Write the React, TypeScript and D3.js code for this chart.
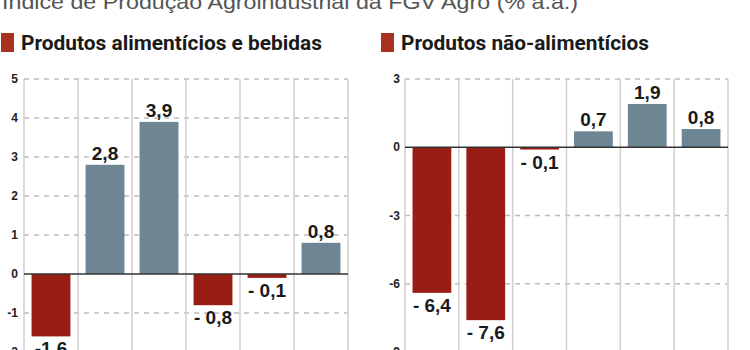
import { useEffect, useRef } from 'react';
import * as d3 from 'd3';

const title = 'Índice de Produção Agroindustrial da FGV Agro (% a.a.)';
const categories = ['1', '2', '3', '4', '5', '6'];
const foodLabel = 'Produtos alimentícios e bebidas';
const foodValues = [-1.6, 2.8, 3.9, -0.8, -0.1, 0.8];
const foodTexts = ['-1,6', '2,8', '3,9', '- 0,8', '- 0,1', '0,8'];
const foodTicks = [-2, -1, 0, 1, 2, 3, 4, 5];
const nonFoodLabel = 'Produtos não-alimentícios';
const nonFoodValues = [-6.4, -7.6, -0.1, 0.7, 1.9, 0.8];
const nonFoodTexts = ['- 6,4', '- 7,6', '- 0,1', '0,7', '1,9', '0,8'];
const nonFoodTicks = [-9, -6, -3, 0, 3];

const RED = '#981d15';
const BLUE = '#6e8694';
const LEGEND_RED = '#a8321f';

function drawPanel(
  svg: d3.Selection<SVGSVGElement, unknown, null, undefined>,
  opts: {
    values: number[];
    texts: string[];
    ticks: number[];
    domain: [number, number];
    x0: number;
    x1: number;
    label: string;
    legendX: number;
    legendW: number;
    tickX: number;
  }
) {
  const { values, texts, ticks, domain, x0, x1, label, legendX, legendW, tickX } = opts;
  const y = d3.scaleLinear().domain(domain).range([352, 79]);
  const x = d3.scaleBand<string>().domain(categories).range([x0, x1]).paddingInner(0.28).paddingOuter(0.14);
  const g = svg.append('g');

  // legend
  g.append('rect')
    .attr('x', legendX)
    .attr('y', 33)
    .attr('width', 13)
    .attr('height', 19)
    .attr('fill', LEGEND_RED);
  g.append('text')
    .attr('x', legendX + 20)
    .attr('y', 50)
    .attr('font-family', 'Roboto, sans-serif')
    .attr('font-weight', 700)
    .attr('font-size', 20)
    .attr('fill', '#1a1a1a')
    .attr('textLength', legendW)
    .attr('lengthAdjust', 'spacingAndGlyphs')
    .text(label);

  // horizontal dashed grid
  g.selectAll('.hgrid')
    .data(ticks.filter(t => t !== 0))
    .enter()
    .append('line')
    .attr('x1', x0)
    .attr('x2', x1)
    .attr('y1', d => y(d))
    .attr('y2', d => y(d))
    .attr('stroke', '#bdbdbd')
    .attr('stroke-width', 1.5)
    .attr('stroke-dasharray', '5,5');

  // vertical column lines
  const bounds = categories.map(c => x(c)! - x.step() * 0.14).concat([x1]);
  g.selectAll('.vgrid')
    .data(bounds)
    .enter()
    .append('line')
    .attr('x1', d => d)
    .attr('x2', d => d)
    .attr('y1', y(domain[1]))
    .attr('y2', 352)
    .attr('stroke', '#cfcfcf')
    .attr('stroke-width', 1.5);

  // tick labels
  g.selectAll('.tick')
    .data(ticks)
    .enter()
    .append('text')
    .attr('x', tickX)
    .attr('y', d => y(d) + 4)
    .attr('text-anchor', 'end')
    .attr('font-family', 'Liberation Sans, Arial, sans-serif')
    .attr('font-weight', 700)
    .attr('font-size', 12)
    .attr('fill', '#222')
    .text(d => String(d));

  // bars
  g.selectAll('.bar')
    .data(values)
    .enter()
    .append('rect')
    .attr('x', (_, i) => x(categories[i])!)
    .attr('width', x.bandwidth())
    .attr('y', d => y(Math.max(0, d)))
    .attr('height', d => Math.abs(y(d) - y(0)))
    .attr('fill', d => (d < 0 ? RED : BLUE));

  // zero line
  g.append('line')
    .attr('x1', x0)
    .attr('x2', x1)
    .attr('y1', y(0))
    .attr('y2', y(0))
    .attr('stroke', '#333')
    .attr('stroke-width', 1.5);

  // value labels
  g.selectAll('.val')
    .data(values)
    .enter()
    .append('text')
    .attr('x', (_, i) => x(categories[i])! + x.bandwidth() / 2)
    .attr('y', d => (d >= 0 ? y(d) - 5 : y(d) + 19))
    .attr('text-anchor', 'middle')
    .attr('font-family', 'Liberation Sans, Arial, sans-serif')
    .attr('font-weight', 700)
    .attr('font-size', 19)
    .attr('fill', '#1a1a1a')
    .text((_, i) => texts[i]);
}

export default function App() {
  const svgRef = useRef<SVGSVGElement>(null);

  useEffect(() => {
    if (!svgRef.current) return;
    const svg = d3.select(svgRef.current);
    svg.selectAll('*').remove();

    svg.append('rect').attr('width', 750).attr('height', 350).attr('fill', '#fff');

    svg.append('text')
      .attr('x', 2)
      .attr('y', 9)
      .attr('font-family', 'Liberation Sans, Arial, sans-serif')
      .attr('font-size', 21)
      .attr('fill', '#555')
      .attr('textLength', 576)
      .attr('lengthAdjust', 'spacingAndGlyphs')
      .text(title);

    drawPanel(svg, {
      values: foodValues,
      texts: foodTexts,
      ticks: foodTicks,
      domain: [-2, 5],
      x0: 24,
      x1: 348,
      label: foodLabel,
      legendX: 1,
      legendW: 301,
      tickX: 18,
    });

    drawPanel(svg, {
      values: nonFoodValues,
      texts: nonFoodTexts,
      ticks: nonFoodTicks,
      domain: [-9, 3],
      x0: 405,
      x1: 728,
      label: nonFoodLabel,
      legendX: 381,
      legendW: 248,
      tickX: 400,
    });
  }, []);

  return (
    <svg
      ref={svgRef}
      width={750}
      height={350}
      style={{ position: 'absolute', left: 0, top: 0 }}
    />
  );
}
